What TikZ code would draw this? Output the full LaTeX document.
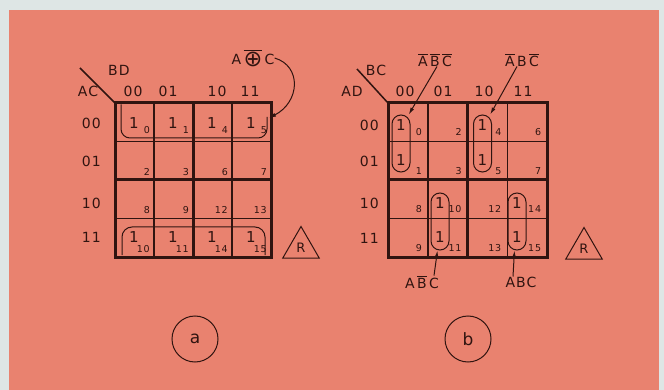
\documentclass[tikz,border=0pt]{standalone}
\usepackage{fontspec}
\setmainfont{DejaVu Sans}[LetterSpace=8]
\usetikzlibrary{arrows.meta, positioning, shapes.geometric}
\definecolor{paper}{RGB}{222,230,229}
\definecolor{salmon}{RGB}{233,130,111}
\definecolor{ink}{RGB}{48,20,16}
\newcommand{\nbar}[1]{$\overline{\mbox{#1}}$}

\begin{document}
\begin{tikzpicture}[x=1pt, y=-1pt,
  font=\fontsize{14}{14}\selectfont,
  gline/.style={draw=ink, line width=1.5pt},
  gbold/.style={draw=ink, line width=3pt},
  lbl/.style={text=ink, inner sep=0pt},
  num/.style={text=ink, inner sep=0pt, font=\fontsize{9.5}{9.5}\selectfont},
  one/.style={text=ink, inner sep=0pt, font=\fontsize{15}{15}\selectfont},
  ring/.style={draw=ink, line width=1pt, rounded corners=9pt},
  pill/.style={ring, minimum width=18pt, minimum height=57pt, inner sep=0pt},
  arr/.style={-{Latex[length=7pt, width=4pt]}, draw=ink, line width=1pt},
  tag/.style={circle, draw=ink, line width=1pt, minimum size=46pt, inner sep=0pt,
    text=ink, font=\fontsize{17}{17}\selectfont},
  badge/.style={regular polygon, regular polygon sides=3, draw=ink, line width=1pt,
    minimum size=42pt, inner sep=0pt, text=ink, font=\fontsize{13}{13}\selectfont}
]
\fill[paper] (0,0) rectangle (664,390);
\fill[salmon] (9,10) rectangle (659,390);
\useasboundingbox (0,0) rectangle (664,390);

% map a
\node[lbl] (ac) at (88,91) {AC};
\node[lbl] (bd) at (119,70) {BD};
\draw[gline] (80,68) -- (115,103);
\foreach \lab/\px in {00/133,01/168,10/217,11/250}
  \node[lbl] (ca\lab) at (\px,91) {\lab};
\foreach \lab/\py in {00/123,01/161,10/203,11/237}
  \node[lbl, anchor=east] (ra\lab) at (101,\py) {\lab};
\begin{scope}[shift={(115,103)}]
  \foreach \k in {1,3} {
    \draw[gline] (\k*39,0) -- (\k*39,154);
    \draw[gline] (0,\k*38.5) -- (156,\k*38.5);
  }
  \draw[gbold] (78,0) -- (78,154) (0,77) -- (156,77);
  \draw[gbold] (0,0) rectangle (156,154);
  \foreach \ci/\cv in {0/0,1/1,2/4,3/5}
    \foreach \ri/\rv in {0/0,1/2,2/8,3/10} {
      \pgfmathtruncatemacro\m{\cv+\rv}
      \pgfmathsetmacro\dy{ifthenelse(\ri==0,31,34)}
      \node[num, anchor=base east] (a\m) at (\ci*39+35, \ri*38.5+\dy) {\m};
    }
  \foreach \ci in {0,...,3} {
    \node[one] (ta\ci) at (\ci*39+19,20) {1};
    \node[one] (ba\ci) at (\ci*39+19,134) {1};
  }
  \draw[ring] (6,1.5) -- (6,35) -- (152,35) -- (152,14);
  \draw[ring, rounded corners=10pt] (7,152) -- (7,124) -- (150,124) -- (150,152);
  \coordinate (hitA) at (154,15);
\end{scope}
\node[lbl] (xnor) at (253,58) {A\,\nbar{\raisebox{-1.5pt}{\scalebox{1.6}{⊕}}}\,C};
\draw[arr] (xnor.east) .. controls (302,66) and (300,102) .. (hitA);
\node[badge] (trA) at (301,247.5) {R};
\node[tag] (capA) at (195,339) {a};

% map b
\node[lbl] (ad) at (352,91) {AD};
\node[lbl] (bc) at (376,70) {BC};
\draw[gline] (357,69) -- (388,103);
\foreach \lab/\px in {00/405,01/443,10/484,11/523}
  \node[lbl] (cb\lab) at (\px,91) {\lab};
\foreach \lab/\py in {00/125,01/161,10/203,11/238}
  \node[lbl, anchor=east] (rb\lab) at (379,\py) {\lab};
\begin{scope}[shift={(388,103)}]
  \foreach \k in {1,3} {
    \draw[gline] (\k*39.75,0) -- (\k*39.75,154);
    \draw[gline] (0,\k*38.5) -- (159,\k*38.5);
  }
  \draw[gbold] (79.5,0) -- (79.5,154) (0,77) -- (159,77);
  \draw[gbold] (0,0) rectangle (159,154);
  \foreach \ci/\cv in {0/0,1/2,2/4,3/6}
    \foreach \ri/\rv in {0/0,1/1,2/8,3/9} {
      \pgfmathtruncatemacro\m{\cv+\rv}
      \node[num, anchor=base east] (b\m) at (\ci*39.75+34, \ri*38.5+33) {\m};
    }
  \node[pill] (p0) at (13,40.5) {};
  \node[pill] (p4) at (94.5,40.5) {};
  \node[pill] (p10) at (52,118.5) {};
  \node[pill] (p14) at (129,118.5) {};
  \foreach \px in {13,94.5} {
    \node[one] at (\px,22) {1};
    \node[one] at (\px,57) {1};
  }
  \foreach \px in {52,129} {
    \node[one] at (\px,100) {1};
    \node[one] at (\px,134) {1};
  }
\end{scope}
\node[lbl] (nanbnc) at (435,60) {\nbar{A}\,\nbar{B}\,\nbar{C}};
\node[lbl] (nabnc) at (522,60) {\nbar{A}\,B\,\nbar{C}};
\node[lbl] (anbc) at (422,282) {A\,\nbar{B}\,C};
\node[lbl] (abc) at (521,282) {ABC};
\draw[arr] ([xshift=2pt]nanbnc.south) -- (p0.75);
\draw[arr] ([xshift=-5pt]nabnc.south) -- (p4.75);
\draw[arr] ([xshift=12pt]anbc.north) -- (p10.-95);
\draw[arr] ([xshift=-8pt]abc.north) -- (p14.-95);
\node[badge] (trB) at (584,248.5) {R};
\node[tag] (capB) at (468,339) {b};
\end{tikzpicture}
\end{document}
